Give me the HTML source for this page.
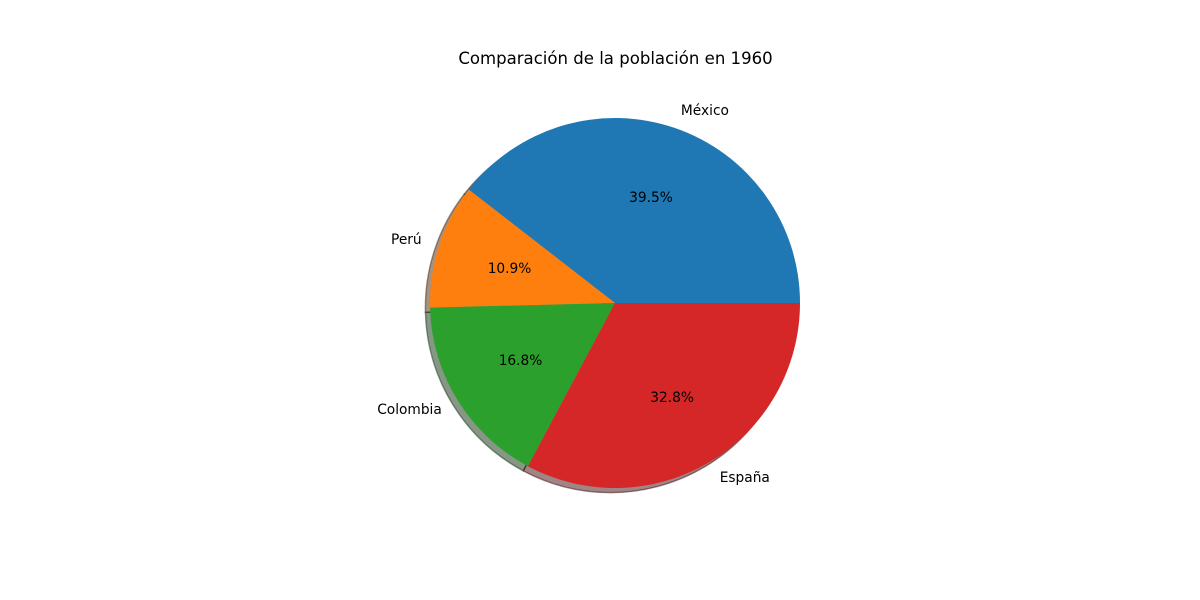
<!DOCTYPE html>
<html lang="es">
<head>
<meta charset="utf-8">
<title>Comparación de la población en 1960</title>
<style>
html,body{margin:0;padding:0;background:#fff;width:1200px;height:600px;overflow:hidden}
svg{display:block}
text{font-family:"DejaVu Sans","Liberation Sans",sans-serif;fill:#000}
</style>
</head>
<body>
<svg id="chart" width="1200" height="600" viewBox="0 0 1200 600" xmlns="http://www.w3.org/2000/svg">
<rect width="1200" height="600" fill="#ffffff"/>
<text x="615.5" y="64" font-size="16.56" text-anchor="middle">Comparación de la población en 1960</text>
<g id="shadows"></g>
<g id="wedges"></g>
<g id="labels"></g>
</svg>
<script>
const categories = ["México", "Perú", "Colombia", "España"];
const seriesValues = [39.5, 10.9, 16.8, 32.8];
const sliceColors = ["#1f77b4", "#ff7f0e", "#2ca02c", "#d62728"];
const shadowColors = ["#092436", "#4d2604", "#0d300d", "#400c0c"];

const NS = "http://www.w3.org/2000/svg";
const cx = 615, cy = 303, radius = 185;
const shadowOffset = 0.025 * radius;
const total = seriesValues.reduce((a, b) => a + b, 0);
const px = a => cx + radius * Math.cos(a);
const py = a => cy - radius * Math.sin(a);
const shadowsG = document.getElementById("shadows");
const wedgesG = document.getElementById("wedges");
const labelsG = document.getElementById("labels");

function wedgePath(a0, a1) {
  const large = (a1 - a0) > Math.PI ? 1 : 0;
  return "M" + cx + " " + cy + "L" + px(a0) + " " + py(a0) +
    "A" + radius + " " + radius + " 0 " + large + " 0 " + px(a1) + " " + py(a1) + "Z";
}

function addText(str, x, y, anchor, name) {
  const t = document.createElementNS(NS, "text");
  t.setAttribute("x", x);
  t.setAttribute("y", Math.round(y));
  t.setAttribute("font-size", "13.75");
  t.setAttribute("text-anchor", anchor);
  
  
  t.textContent = str;
  labelsG.appendChild(t);
}

let cumulative = 0;
seriesValues.forEach((v, i) => {
  const a0 = cumulative / total * 2 * Math.PI;
  cumulative += v;
  const a1 = cumulative / total * 2 * Math.PI;
  const mid = (a0 + a1) / 2;
  const d = wedgePath(a0, a1);
  const slug = categories[i].toLowerCase();

  const s = document.createElementNS(NS, "path");
  s.setAttribute("d", d);
  s.setAttribute("transform", "translate(" + (-shadowOffset) + " " + shadowOffset + ")");
  s.setAttribute("fill", shadowColors[i]);
  s.setAttribute("fill-opacity", "0.5");
  s.setAttribute("stroke", shadowColors[i]);
  s.setAttribute("stroke-opacity", "0.5");
  s.setAttribute("stroke-width", "1.39");
  
  
  shadowsG.appendChild(s);

  const w = document.createElementNS(NS, "path");
  w.setAttribute("d", d);
  w.setAttribute("fill", sliceColors[i]);
  
  
  wedgesG.appendChild(w);

  const lx = cx + 1.1 * radius * Math.cos(mid);
  const ly = cy - 1.1 * radius * Math.sin(mid);
  addText(categories[i], lx, ly + 4.15, lx > cx ? "start" : "end", "label-" + slug);

  const tx = cx + 0.6 * radius * Math.cos(mid);
  const ty = cy - 0.6 * radius * Math.sin(mid);
  addText((v / total * 100).toFixed(1) + "%", tx, ty + 4.15, "middle", "percent-" + slug);
});
</script>
</body>
</html>
